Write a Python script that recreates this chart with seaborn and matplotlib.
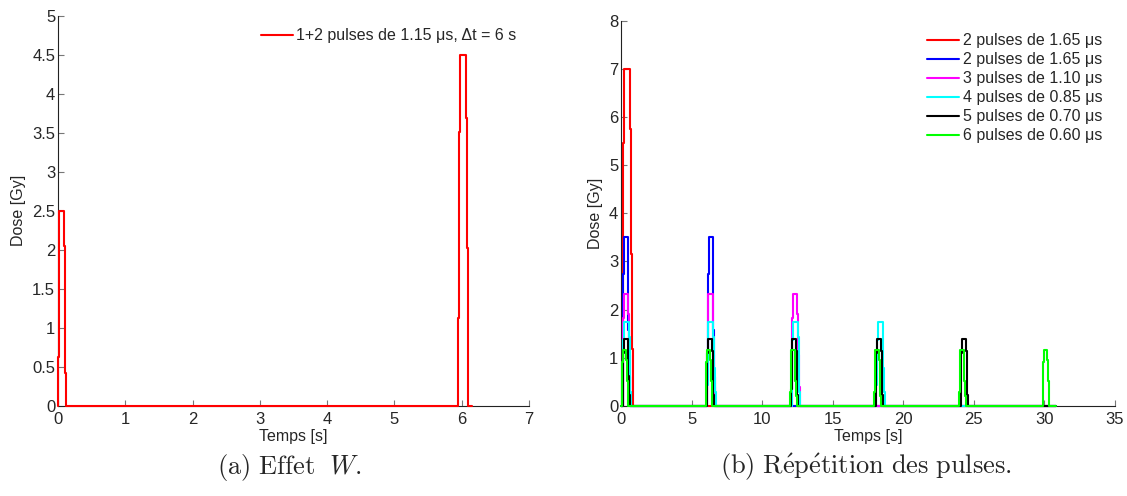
import matplotlib
matplotlib.use("Agg")
import matplotlib.pyplot as plt
import numpy as np
import pandas as pd
import seaborn as sns

# pulse shape: step times (fraction of pulse width) and levels (fraction of peak)
shape_t = [0.0, 0.08, 0.16, 0.72, 0.82, 0.91, 1.0]
shape_y = [0.25, 0.78, 1.0, 0.82, 0.45, 0.17, 0.0]

# (a) Effet W
left_label = "1+2 pulses de 1.15 μs, Δt = 6 s"
left_starts = [0.0, 5.95]
left_widths = [0.12, 0.15]
left_peaks = [2.5, 4.5]
left_end = 6.15

# (b) Repetition des pulses
right_labels = ["2 pulses de 1.65 μs", "2 pulses de 1.65 μs", "3 pulses de 1.10 μs",
                "4 pulses de 0.85 μs", "5 pulses de 0.70 μs", "6 pulses de 0.60 μs"]
right_colors = ["#ff0000", "#0000ff", "#ff00ff", "#00ffff", "#000000", "#00ff00"]
right_peaks = [7.0, 3.5, 2.33, 1.75, 1.4, 1.17]
right_widths = [0.72, 0.5, 0.55, 0.6, 0.5, 0.47]
right_starts = [
    [0.12],
    [0.12, 6.13],
    [0.12, 6.1, 12.1],
    [0.12, 6.1, 12.1, 18.1],
    [0.12, 6.08, 12.05, 18.05, 24.08],
    [0.05, 6.0, 11.98, 17.95, 23.95, 29.87],
]
right_end = 30.8


def pulse_train(starts, widths, peaks, end):
    t, y = [0.0], [0.0]
    for s, w, p in zip(starts, widths, peaks):
        for ft, fy in zip(shape_t, shape_y):
            t.append(s + ft * w)
            y.append(fy * p)
    t.append(end)
    y.append(0.0)
    return pd.DataFrame({"t": t, "dose": y})


sns.set_style("ticks")
plt.rcParams["font.family"] = ["Liberation Sans", "DejaVu Sans"]
plt.rcParams["mathtext.fontset"] = "cm"
plt.rcParams["axes.edgecolor"] = "#222222"
plt.rcParams["xtick.direction"] = "in"
plt.rcParams["ytick.direction"] = "in"

fig = plt.figure(figsize=(11.27, 4.96), dpi=100)
ax1 = fig.add_axes([0.0514, 0.1815, 0.418, 0.787])
ax2 = fig.add_axes([0.551, 0.1815, 0.4383, 0.777])

df_left = pulse_train(left_starts, left_widths, left_peaks, left_end)
sns.lineplot(data=df_left, x="t", y="dose", ax=ax1, color="#ff0000", lw=1.5,
             estimator=None, sort=False, drawstyle="steps-post", label=left_label,
             clip_on=False, zorder=3)

for lab, col, pk, w, st in zip(right_labels, right_colors, right_peaks, right_widths, right_starts):
    df = pulse_train(st, [w] * len(st), [pk] * len(st), right_end)
    sns.lineplot(data=df, x="t", y="dose", ax=ax2, color=col, lw=1.5,
                 estimator=None, sort=False, drawstyle="steps-post", label=lab,
                 clip_on=False, zorder=3)

ax1.set_xlim(0, 7)
ax1.set_ylim(0, 5)
ax1.set_xticks(np.arange(0, 8, 1))
ax1.set_yticks(np.arange(0, 5.01, 0.5))
ax1.set_yticklabels(["0", "0.5", "1", "1.5", "2", "2.5", "3", "3.5", "4", "4.5", "5"])

ax2.set_xlim(0, 35)
ax2.set_ylim(0, 8)
ax2.set_xticks(np.arange(0, 36, 5))
ax2.set_yticks(np.arange(0, 9, 1))

for ax in (ax1, ax2):
    sns.despine(ax=ax)
    ax.set_xlabel("Temps [s]", fontsize=11.5, labelpad=2)
    ax.set_ylabel("Dose [Gy]", fontsize=11.5, labelpad=4)
    ax.tick_params(labelsize=12, length=4, width=0.8, color="#777777", pad=2)
    ax.tick_params(axis="x", pad=4)
    ax.legend(loc="upper right", frameon=False, fontsize=11.5, handlelength=2.0,
              handletextpad=0.2, labelspacing=0.25, borderaxespad=0.4)

fig.text(0.257, 0.058, r"$\mathrm{(a)\ Effet}\ \ W.$", ha="center", va="center", fontsize=19)
fig.text(0.768, 0.058, r"$\mathrm{(b)\ R\acute{e}p\acute{e}tition\ des\ pulses.}$",
         ha="center", va="center", fontsize=19)

fig.savefig("out.png", dpi=100)
